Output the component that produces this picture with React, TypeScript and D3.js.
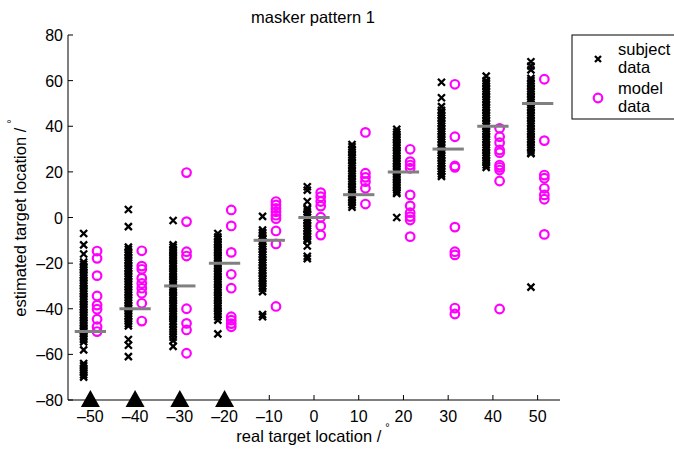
import { scaleLinear } from "d3";

// target locations (degrees)
const targets = [-50, -40, -30, -20, -10, 0, 10, 20, 30, 40, 50];
// locations marked with a triangle on the x axis
const markedTargets = [-50, -40, -30, -20];

const xTicks = [-50, -40, -30, -20, -10, 0, 10, 20, 30, 40, 50];
const yTicks = [-80, -60, -40, -20, 0, 20, 40, 60, 80];

// subject responses per target location
const subjectData: number[][] = [
  [-7, -12, -16, -19.5, -20.5, -21.5, -22, -23, -24, -25, -25.5, -26.5, -27.5, -28.5, -29, -30, -31, -32, -32.5, -33.5, -34.5, -35.5, -36, -37, -38, -39, -39.5, -40.5, -41.5, -42.5, -43, -44, -45, -46, -46.5, -47.5, -48.5, -49.5, -50, -51, -52, -53, -53.5, -54.5, -58, -64, -65, -66, -67, -68, -69, -70],
  [3.5, -4, -13, -14, -15, -15.5, -16.5, -17.5, -18.5, -19, -20, -21, -22, -22.5, -23.5, -24.5, -25.5, -26, -27, -28, -29, -29.5, -30.5, -31.5, -32.5, -33, -34, -35, -36, -36.5, -37.5, -38.5, -39.5, -40, -41, -42, -43, -43.5, -44.5, -45.5, -46.5, -47.5, -53.5, -56, -61],
  [-1.3, -12, -13, -14, -14.5, -15.5, -16.5, -17.5, -18, -19, -20, -21, -21.5, -22.5, -23.5, -24.5, -25, -26, -27, -28, -28.5, -29.5, -30.5, -31.5, -32, -33, -34, -35, -35.5, -36.5, -37.5, -38.5, -39, -40, -41, -42, -42.5, -43.5, -44.5, -45.5, -46.5, -48, -49.5, -51, -52.5, -54, -56.5],
  [-7, -8.5, -9.5, -10.5, -11, -12, -13, -14, -14.5, -15.5, -16.5, -17.5, -18, -19, -20, -21, -21.5, -22.5, -23.5, -24.5, -25, -26, -27, -28, -28.5, -29.5, -30.5, -31.5, -32, -33, -34, -35, -35.5, -36.5, -37.5, -38.5, -39, -40, -41, -42, -42.5, -43.5, -45, -51],
  [0.5, -5.5, -6.5, -7, -8, -9, -9.5, -10.5, -11.5, -12.5, -13, -14, -15, -16, -16.5, -17.5, -18.5, -19.5, -20, -21, -22, -23, -23.5, -24.5, -25.5, -26.5, -27, -28, -29, -30, -31, -32.5, -42.5, -43.5],
  [13.5, 12, 7, 4, 3.5, 2.5, 1.5, 1, 0, -1, -1.5, -2.5, -3.5, -4.5, -5, -6, -7, -8, -8.5, -9.5, -10, -12.5, -17, -18],
  [32, 31, 30, 29.5, 28.5, 27.5, 26.5, 26, 25, 24, 23, 22.5, 21.5, 20.5, 19.5, 19, 18, 17, 16, 15.5, 14.5, 13.5, 12.5, 12, 11, 10, 9, 8.5, 7.5, 6.5, 5.5, 4.5],
  [38.7, 37.5, 36.5, 35.5, 35, 34, 33, 32, 31.5, 30.5, 29.5, 28.5, 28, 27, 26, 25, 24.5, 23.5, 22.5, 21.5, 21, 20, 19, 18, 17.5, 16.5, 15.5, 14.5, 14, 13, 12, 11, 10.5, 0],
  [59.3, 52.5, 48.6, 47, 46, 45, 44.5, 43.5, 42.5, 41.5, 41, 40, 39, 38, 37.5, 36.5, 35.5, 34.5, 34, 33, 32, 31, 30.5, 29.5, 28.5, 27.5, 27, 26, 25, 24, 23.5, 22.5, 21.5, 20.5, 20, 19, 18],
  [62, 60, 59, 58.5, 57.5, 56.5, 55.5, 55, 54, 53, 52, 51.5, 50.5, 49.5, 48.5, 48, 47, 46, 45, 44.5, 43.5, 42.5, 41.5, 41, 40, 39, 38, 37.5, 36.5, 35.5, 34.5, 34, 33, 32, 31, 30.5, 29.5, 28.5, 27.5, 27, 26, 25, 24, 23, 22],
  [68.3, 66.4, 64.7, 61, 60, 59, 58.5, 57.5, 56.5, 55.5, 55, 54, 53, 52, 51.5, 50.5, 49.5, 48.5, 48, 47, 46, 45, 44.5, 43.5, 42.5, 41.5, 41, 40, 39, 38, 37.5, 36.5, 35.5, 34.5, 34, 33, 32, 31, 30.5, 29.5, 28.5, 28, -30.5],
];

// model predictions per target location
const modelData: number[][] = [
  [-14.7, -17.9, -25.5, -34.4, -38.4, -40.2, -44.6, -47.9, -50],
  [-14.6, -21.3, -22.7, -26.6, -28.9, -31, -33.2, -37.6, -45.4],
  [19.7, -1.8, -15, -16.9, -40, -46.4, -49.3, -59.5],
  [3.3, -3.7, -15.3, -24.9, -31, -43.5, -45, -46.5, -47.9],
  [7, 5.5, 4, 2.5, 1, -0.5, -5.9, -11.6, -39],
  [10.9, 9.1, 7, 5, 0.1, -3.7, -7.7],
  [37.3, 19.4, 17.6, 15.7, 12.8, 5.9],
  [29.9, 24.5, 23, 21.6, 9.9, 5.1, 2.1, 0.4, -1.1, -8.4],
  [58.4, 35.4, 22.6, 22, -4.2, -15, -16.4, -39.7, -42.3],
  [39.1, 35.4, 32.8, 29.6, 28.4, 23, 22, 20.8, 16, -40.1],
  [60.6, 33.7, 18.6, 17.2, 12.8, 9.9, 8, -7.4],
];

const W = 674;
const H = 450;
const plot = { left: 68, right: 560, top: 35, bottom: 400 };
const font = "'Liberation Sans', Arial, Helvetica, sans-serif";

const Cross = ({ x, y, s = 3.5 }: { x: number; y: number; s?: number }) => (
  <path
    d={`M${x - s},${y - s}L${x + s},${y + s}M${x - s},${y + s}L${x + s},${y - s}`}
    stroke="#000"
    strokeWidth={2.3}
  />
);

const fmt = (t: number) => (t < 0 ? `–${-t}` : `${t}`);

const App = () => {
  const x = scaleLinear().domain([-55, 55]).range([plot.left, plot.right]);
  const y = scaleLinear().domain([-80, 80]).range([plot.bottom, plot.top]);
  const offset = 1.5; // subject / model columns sit either side of the target

  const subjects = targets.flatMap((t, i) =>
    subjectData[i].map((v, j) => <Cross key={`s${i}-${j}`} x={x(t - offset)} y={y(v)} />)
  );

  const models = targets.flatMap((t, i) =>
    modelData[i].map((v, j) => (
      <circle
        key={`m${i}-${j}`}
        cx={x(t + offset)}
        cy={y(v)}
        r={4.3}
        fill="none"
        stroke="#ff00ff"
        strokeWidth={2.2}
      />
    ))
  );

  const bars = targets.map((t) => (
    <line
      key={`b${t}`}
      x1={x(t - 3.5)}
      x2={x(t + 3.5)}
      y1={y(t)}
      y2={y(t)}
      stroke="#808080"
      strokeWidth={3}
    />
  ));

  const triangles = markedTargets.map((t) => {
    const cx = x(t);
    const cy = y(-80) - 1;
    return (
      <path
        key={`t${t}`}
        d={`M${cx},${cy - 9}L${cx + 9.5},${cy + 8}L${cx - 9.5},${cy + 8}Z`}
        fill="#000"
      />
    );
  });

  return (
    <div style={{ position: "absolute", left: 0, top: 0 }}>
      <svg width={W} height={H} style={{ display: "block", background: "#fff" }} fontFamily={font}>
        <text x={313} y={23} fontSize={16.5} textAnchor="middle">
          masker pattern 1
        </text>

        {subjects}
        {models}
        {bars}

        {/* axes */}
        <line x1={plot.left} x2={plot.left} y1={plot.top} y2={plot.bottom} stroke="#000" />
        <line x1={plot.left} x2={plot.right} y1={plot.bottom} y2={plot.bottom} stroke="#000" />
        {yTicks.map((t) => (
          <g key={`yt${t}`}>
            <line x1={plot.left} x2={plot.left + 5} y1={y(t)} y2={y(t)} stroke="#000" />
            <text x={plot.left - 5} y={y(t) + 6} fontSize={16} textAnchor="end">
              {fmt(t)}
            </text>
          </g>
        ))}
        {xTicks.map((t) => (
          <g key={`xt${t}`}>
            <line x1={x(t)} x2={x(t)} y1={plot.bottom} y2={plot.bottom - 5} stroke="#000" />
            <text x={x(t)} y={plot.bottom + 22} fontSize={16} textAnchor="middle">
              {fmt(t)}
            </text>
          </g>
        ))}

        {triangles}

        <text x={313} y={442} fontSize={16.5} textAnchor="middle">
          real target location /<tspan dx={4} dy={-11} fontSize={11}>°</tspan>
        </text>
        <text transform={`translate(26,218) rotate(-90)`} fontSize={16.5} textAnchor="middle">
          estimated target location /<tspan dx={4} dy={-11} fontSize={11}>°</tspan>
        </text>

        {/* legend */}
        <rect x={572} y={35} width={120} height={84} fill="#fff" stroke="#000" />
        <Cross x={598} y={59} s={3} />
        <circle cx={598} cy={98} r={4.3} fill="none" stroke="#ff00ff" strokeWidth={2.2} />
        <text x={618} y={55} fontSize={16.5}>subject</text>
        <text x={618} y={73} fontSize={16.5}>data</text>
        <text x={618} y={94} fontSize={16.5}>model</text>
        <text x={618} y={112} fontSize={16.5}>data</text>
      </svg>
    </div>
  );
};

export default App;
